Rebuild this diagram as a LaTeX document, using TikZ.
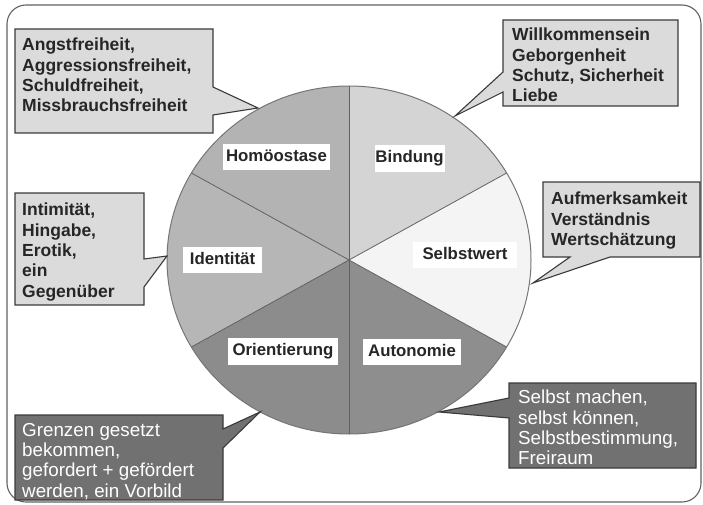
\documentclass[tikz,border=0pt]{standalone}
\usepackage{fontspec}
\setmainfont{Liberation Sans}
\definecolor{cBind}{HTML}{D4D4D4}
\definecolor{cSelbst}{HTML}{F4F4F4}
\definecolor{cAuto}{HTML}{8E8E8E}
\definecolor{cOrient}{HTML}{8C8C8C}
\definecolor{cIdent}{HTML}{B6B6B6}
\definecolor{cHomo}{HTML}{B3B3B3}
\definecolor{cLight}{HTML}{DBDBDB}
\definecolor{cDark}{HTML}{717171}
\definecolor{cLine}{HTML}{3A3A3A}
\definecolor{cTxt}{HTML}{262626}
\begin{document}
\begin{tikzpicture}[x=1pt,y=-1pt,
  frame/.style={draw=cLine!80, line width=1.1pt, rounded corners=19pt},
  sep/.style={draw=cLine!80, line width=0.8pt},
  lbl/.style={fill=white, inner xsep=0pt, text height=12pt, text depth=3.5pt, inner ysep=5.5pt, text=cTxt,
    font=\bfseries\fontsize{16.8}{20}\selectfont},
  lightbox/.style={fill=cLight, draw=cLine, line width=1.1pt, line join=miter},
  darkbox/.style={fill=cDark, draw=cLine, line width=1.1pt, line join=miter},
  btxt/.style={anchor=north west, inner sep=0pt, align=left, text=cTxt,
    font=\bfseries\fontsize{17.5}{20.3}\selectfont},
  wtxt/.style={anchor=north west, inner sep=0pt, align=left, text=white,
    font=\fontsize{18.8}{20.3}\selectfont}
]
\useasboundingbox (0,0) rectangle (703,505);
\draw[frame] (7,5) rectangle (701,502);

% pie
\coordinate (c) at (349,260);
\fill[cBind]   (c) -- ++(-30:182 and 174) arc[start angle=-30, end angle=-90, x radius=182, y radius=174] -- cycle;
\fill[cHomo]   (c) -- ++(-90:182 and 174) arc[start angle=-90, end angle=-150, x radius=182, y radius=174] -- cycle;
\fill[cIdent]  (c) -- ++(-150:182 and 174) arc[start angle=-150, end angle=-210, x radius=182, y radius=174] -- cycle;
\fill[cOrient] (c) -- ++(-210:182 and 174) arc[start angle=-210, end angle=-270, x radius=182, y radius=174] -- cycle;
\fill[cAuto]   (c) -- ++(90:182 and 174) arc[start angle=90, end angle=30, x radius=182, y radius=174] -- cycle;
\fill[cSelbst] (c) -- ++(30:182 and 174) arc[start angle=30, end angle=-30, x radius=182, y radius=174] -- cycle;
\foreach \a in {30,-30,-90,-150,150,90}
  \draw[sep] (c) -- ++(\a:182 and 174);
\draw[draw=cLine!70, line width=1pt] (c) ellipse[x radius=182, y radius=174];

% slice labels
\node[lbl, minimum width=107pt] (homo)   at (276.5,157) {Homöostase};
\node[lbl, minimum width=70pt]  (bind)   at (409.5,158.5) {Bindung};
\node[lbl, minimum width=104pt] (selbst) at (465,255) {Selbstwert};
\node[lbl, minimum width=79pt]  (ident)  at (222.5,260) {Identität};
\node[lbl, minimum width=110pt] (orient) at (283,351.5) {Orientierung};
\node[lbl, minimum width=98pt]  (auto)   at (412,352) {Autonomie};

% callouts
\coordinate (tTL) at (258,108);
\coordinate (tTR) at (455,116);
\coordinate (tRM) at (533,283);
\coordinate (tLM) at (167,256);
\coordinate (tBL) at (260,412);
\coordinate (tBR) at (439,412);

\draw[lightbox] (15,29) -- (213,29) -- (213,87) -- (tTL) -- (213,115) -- (213,133) -- (15,133) -- cycle;
\node[btxt] (cTL) at (22,38) {Angstfreiheit,\\Aggressionsfreiheit,\\Schuldfreiheit,\\Missbrauchsfreiheit};

\draw[lightbox] (503,20) -- (678,20) -- (678,106) -- (503,106) -- (503,92) -- (tTR) -- (503,72) -- cycle;
\node[btxt] (cTR) at (512,28) {Willkommensein\\Geborgenheit\\Schutz, Sicherheit\\Liebe};

\draw[lightbox] (543,182) -- (700,182) -- (700,257) -- (610,257) -- (tRM) -- (570,257) -- (543,257) -- cycle;
\node[btxt] (cRM) at (551,192) {Aufmerksamkeit\\Verständnis\\Wertschätzung};

\draw[lightbox] (15,193) -- (144,193) -- (144,259) -- (tLM) -- (144,287) -- (144,305) -- (15,305) -- cycle;
\node[btxt] (cLM) at (22,203) {Intimität,\\Hingabe,\\Erotik,\\ein\\Gegenüber};

\draw[darkbox] (15,415) -- (223,415) -- (223,429) -- (tBL) -- (223,448) -- (223,500) -- (15,500) -- cycle;
\node[wtxt] (cBL) at (22,423) {Grenzen gesetzt\\bekommen,\\gefordert + gefördert\\werden, ein Vorbild};

\draw[darkbox] (509,383) -- (696,383) -- (696,468) -- (509,468) -- (509,418) -- (tBR) -- (509,398) -- cycle;
\node[wtxt] (cBR) at (518,390) {Selbst machen,\\selbst können,\\Selbstbestimmung,\\Freiraum};
\end{tikzpicture}
\end{document}
